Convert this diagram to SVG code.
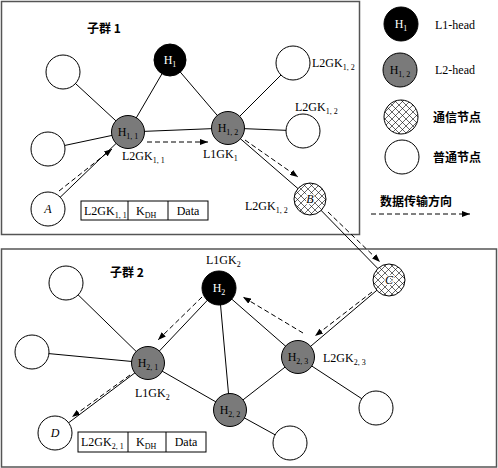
<svg xmlns="http://www.w3.org/2000/svg" width="498" height="468" viewBox="0 0 498 468">
<defs>
<pattern id="hatch" patternUnits="userSpaceOnUse" width="7" height="7">
<rect width="7" height="7" fill="#fff"/>
<path d="M0,0 L7,7 M7,0 L0,7 M-1,6 L1,8 M6,-1 L8,1 M-1,1 L1,-1 M6,8 L8,6" stroke="#000" stroke-width="0.6"/>
</pattern>
<marker id="ah" viewBox="0 0 8 6" refX="8" refY="3" markerWidth="8" markerHeight="6" orient="auto" markerUnits="userSpaceOnUse">
<path d="M0,0 L8,3 L0,6 z" fill="#000"/>
</marker>
</defs>
<style>
.box{fill:none;stroke:#555;stroke-width:1.5}
.e{stroke:#000;stroke-width:1;fill:none}
.d{stroke:#000;stroke-width:1;fill:none;stroke-dasharray:5,3;marker-end:url(#ah)}
.n{stroke:#000;stroke-width:1}
.w{fill:#fff}
.g{fill:#7a7a7a}
.k{fill:#000}
.x{fill:url(#hatch)}
text{font-family:"Liberation Serif","Times New Roman",serif;font-size:12px;fill:#000}
.cn{font-family:"Noto Sans CJK SC",sans-serif;font-size:12px;font-weight:bold}
.c{text-anchor:middle}
.wt{fill:#fff}
.it{font-style:italic}
.s{font-size:8px}
.cell{fill:#fff;stroke:#000;stroke-width:1}
.lb{paint-order:stroke;stroke:#fff;stroke-width:2.5px}
</style>
<rect class="box" x="1.5" y="1.5" width="358" height="233"/>
<rect class="box" x="1.5" y="249" width="495" height="218"/>
<g id="connectors">
<line class="e" x1="63" y1="72" x2="128" y2="132"/>
<line class="e" x1="48" y1="149" x2="128" y2="132"/>
<line class="e" x1="48" y1="209" x2="128" y2="132"/>
<line class="e" x1="170" y1="60" x2="128" y2="132"/>
<line class="e" x1="170" y1="60" x2="228" y2="128"/>
<line class="e" x1="128" y1="132" x2="228" y2="128"/>
<line class="e" x1="228" y1="128" x2="293" y2="63"/>
<line class="e" x1="228" y1="128" x2="303" y2="131"/>
<line class="e" x1="228" y1="128" x2="310" y2="199"/>
<line class="e" x1="310" y1="199" x2="389" y2="280"/>
<line class="e" x1="66" y1="283" x2="148" y2="363"/>
<line class="e" x1="32" y1="352" x2="148" y2="363"/>
<line class="e" x1="219" y1="288" x2="148" y2="363"/>
<line class="e" x1="219" y1="288" x2="230" y2="410"/>
<line class="e" x1="148" y1="363" x2="230" y2="410"/>
<line class="e" x1="148" y1="363" x2="55" y2="433"/>
<line class="e" x1="230" y1="410" x2="298" y2="357"/>
<line class="e" x1="230" y1="410" x2="290" y2="443"/>
<line class="e" x1="298" y1="357" x2="376" y2="408"/>
<line class="e" x1="298" y1="357" x2="219" y2="288"/>
<line class="e" x1="389" y1="280" x2="298" y2="357"/>
<line class="d" x1="59" y1="191" x2="112" y2="149"/>
<line class="d" x1="147" y1="142" x2="208" y2="142"/>
<line class="d" x1="245" y1="140" x2="298" y2="177"/>
<line class="d" x1="328" y1="212" x2="380" y2="262"/>
<line class="d" x1="202" y1="297" x2="158" y2="340"/>
<line class="d" x1="130" y1="375" x2="72" y2="417"/>
<line class="d" x1="303" y1="333" x2="243" y2="297"/>
<line class="d" x1="372" y1="292" x2="315" y2="336"/>
<line class="d" x1="371" y1="214" x2="470" y2="214"/>
</g>
<g id="H1"><circle class="n k" cx="170" cy="60" r="16"/><text class="c wt" x="170" y="64">H<tspan class="s" dy="3">1</tspan></text></g>
<g id="w1a"><circle class="n w" cx="63" cy="72" r="17"/></g>
<g id="H11"><circle class="n g" cx="128" cy="132" r="16.5"/><text class="c" x="128" y="136">H<tspan class="s" dy="3">1, 1</tspan></text></g>
<g id="w1b"><circle class="n w" cx="48" cy="149" r="17"/></g>
<g id="A"><circle class="n w" cx="48" cy="209" r="17"/><text class="c it" x="48" y="213">A</text></g>
<g id="H12"><circle class="n g" cx="228" cy="128" r="16.5"/><text class="c" x="228" y="132">H<tspan class="s" dy="3">1, 2</tspan></text></g>
<g id="w1c"><circle class="n w" cx="293" cy="63" r="17"/></g>
<g id="w1d"><circle class="n w" cx="303" cy="131" r="17"/></g>
<g id="B"><circle class="n x" cx="310" cy="199" r="16"/><text class="c it lb" x="310" y="203">B</text></g>
<g id="C"><circle class="n x" cx="389" cy="280" r="16"/><text class="c it lb" x="389" y="284">C</text></g>
<g id="H2"><circle class="n k" cx="219" cy="288" r="17"/><text class="c wt" x="219" y="292">H<tspan class="s" dy="3">2</tspan></text></g>
<g id="w2a"><circle class="n w" cx="66" cy="283" r="17"/></g>
<g id="w2b"><circle class="n w" cx="32" cy="352" r="17"/></g>
<g id="H21"><circle class="n g" cx="148" cy="363" r="16.5"/><text class="c" x="148" y="367">H<tspan class="s" dy="3">2, 1</tspan></text></g>
<g id="H22"><circle class="n g" cx="230" cy="410" r="16.5"/><text class="c" x="230" y="414">H<tspan class="s" dy="3">2, 2</tspan></text></g>
<g id="D"><circle class="n w" cx="55" cy="433" r="17"/><text class="c it" x="55" y="437">D</text></g>
<g id="H23"><circle class="n g" cx="298" cy="357" r="16.5"/><text class="c" x="298" y="361">H<tspan class="s" dy="3">2, 3</tspan></text></g>
<g id="w2c"><circle class="n w" cx="376" cy="408" r="17"/></g>
<g id="w2d"><circle class="n w" cx="290" cy="443" r="17"/></g>
<g id="labels">
<text class="cn" x="87" y="33">子群 1</text>
<text class="cn" x="110" y="277">子群 2</text>
<text x="122" y="160">L2GK<tspan class="s" dy="3">1, 1</tspan></text>
<text x="203" y="158">L1GK<tspan class="s" dy="3">1</tspan></text>
<text x="312" y="67">L2GK<tspan class="s" dy="3">1, 2</tspan></text>
<text x="295" y="111">L2GK<tspan class="s" dy="3">1, 2</tspan></text>
<text x="245" y="210">L2GK<tspan class="s" dy="3">1, 2</tspan></text>
<text x="206" y="264">L1GK<tspan class="s" dy="3">2</tspan></text>
<text x="135" y="397">L1GK<tspan class="s" dy="3">2</tspan></text>
<text x="323" y="362">L2GK<tspan class="s" dy="3">2, 3</tspan></text>
</g>
<g id="packet1">
<rect class="cell" x="81" y="201" width="127" height="19"/>
<line class="e" x1="128" y1="201" x2="128" y2="220"/>
<line class="e" x1="168" y1="201" x2="168" y2="220"/>
<text x="84" y="215">L2GK<tspan class="s" dy="3">1, 1</tspan></text>
<text x="136" y="215">K<tspan class="s" dy="3">DH</tspan></text>
<text class="c" x="188" y="215">Data</text>
</g>
<g id="packet2">
<rect class="cell" x="78" y="432" width="128" height="20"/>
<line class="e" x1="128" y1="432" x2="128" y2="452"/>
<line class="e" x1="166" y1="432" x2="166" y2="452"/>
<text x="81" y="446">L2GK<tspan class="s" dy="3">2, 1</tspan></text>
<text x="136" y="446">K<tspan class="s" dy="3">DH</tspan></text>
<text class="c" x="186" y="446">Data</text>
</g>
<g id="legend">
<circle class="n k" cx="401" cy="24" r="17"/><text class="c wt" x="401" y="28">H<tspan class="s" dy="3">1</tspan></text>
<text x="435" y="29">L1-head</text>
<circle class="n g" cx="400" cy="70" r="17"/><text class="c" x="400" y="74">H<tspan class="s" dy="3">1, 2</tspan></text>
<text x="435" y="74">L2-head</text>
<circle class="n x" cx="401" cy="117" r="17"/>
<text class="cn" x="433" y="122">通信节点</text>
<circle class="n w" cx="402" cy="157" r="17"/>
<text class="cn" x="433" y="162">普通节点</text>
<text class="cn" x="380" y="206">数据传输方向</text>
</g>
</svg>
